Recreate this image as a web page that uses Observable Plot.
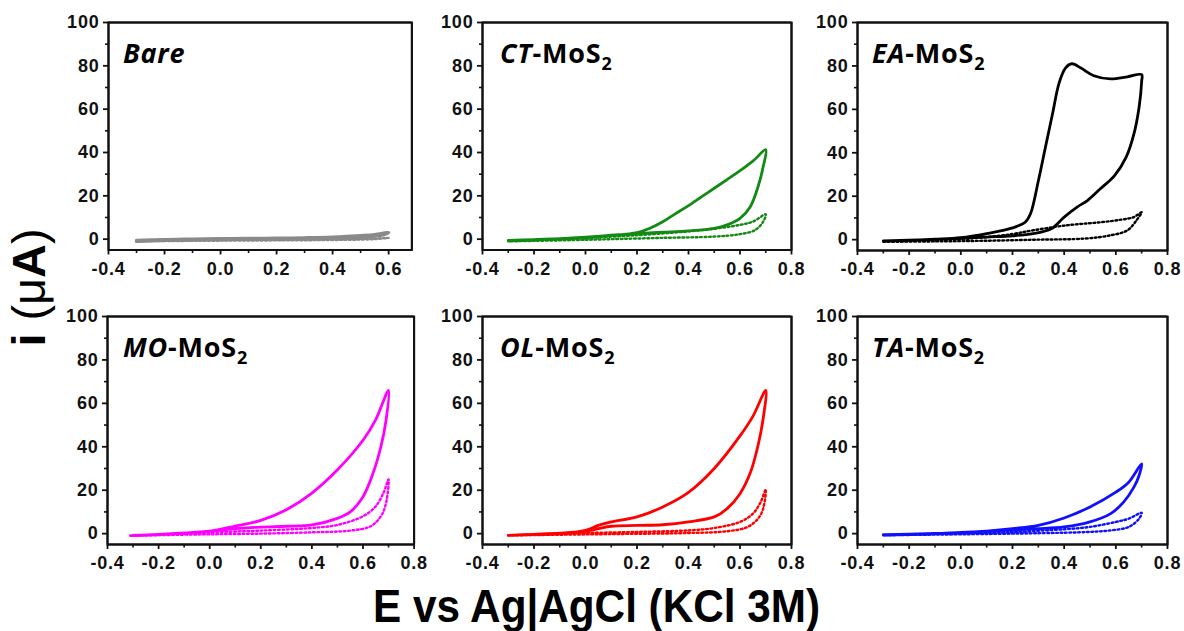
<!DOCTYPE html>
<html><head><meta charset="utf-8">
<script src="https://cdn.jsdelivr.net/npm/d3@7"></script>
<script src="https://cdn.jsdelivr.net/npm/@observablehq/plot@0.6"></script>
<style>
body{margin:0;background:#fff;}
#root{position:relative;width:1184px;height:631px;overflow:hidden;}
.panel{position:absolute;z-index:2;}
.panel g[aria-label$="tick label"] text, .panel g[aria-label$="tick label"]{font-family:'Liberation Sans',Arial,sans-serif !important;font-size:18px !important;font-weight:bold !important;letter-spacing:0.8px;fill:#111;}
#labels{position:absolute;left:0;top:0;pointer-events:none;z-index:1;}
</style>
</head><body>
<div id="root"></div>
<script>
// ---------- data: cyclic voltammograms (E in V vs Ag|AgCl, i in µA) ----------
const yTicks = [0, 20, 40, 60, 80, 100];
const yMinor = [10, 30, 50, 70, 90];
const yFrame = [-5, 100];
const xTicksShort = [-0.4, -0.2, 0.0, 0.2, 0.4, 0.6];
const xTicksLong = [-0.4, -0.2, 0.0, 0.2, 0.4, 0.6, 0.8];
const xMinorShort = [-0.3, -0.1, 0.1, 0.3, 0.5];
const xMinorLong = [-0.3, -0.1, 0.1, 0.3, 0.5, 0.7];

const bareSolid = [[-0.3,-0.6],[-0.2,-0.2],[-0.1,0],[0,0.2],[0.1,0.3],[0.2,0.4],[0.3,0.6],[0.4,0.9],[0.45,1.2],[0.5,1.6],[0.55,2.1],[0.6,3.0],
  [0.58,2.0],[0.55,1.4],[0.5,0.8],[0.4,0.4],[0.3,0.2],[0.2,0.1],[0,0],[-0.1,-0.2],[-0.2,-0.5],[-0.3,-1.0]];
const bareDotted = [[-0.3,-1.0],[0,-0.5],[0.3,-0.2],[0.45,0],[0.55,0.3],[0.6,0.6],[0.55,0],[0.45,-0.3],[0.3,-0.5],[0,-0.7],[-0.3,-1.0]];

const ctSolid = [[-0.3,-0.6],[-0.2,-0.2],[-0.1,0.2],[0,0.7],[0.1,1.6],[0.2,3.0],[0.25,5.0],[0.3,8.0],[0.35,11.8],[0.4,15.5],[0.45,19.5],[0.5,23.5],[0.55,27.5],[0.6,31.6],[0.65,36.0],[0.7,41.3],
  [0.69,33.4],[0.67,24.2],[0.64,15],[0.6,9.6],[0.55,6.6],[0.5,5],[0.4,3.8],[0.3,3.2],[0.2,2.6],[0.1,1.8],[0,0.9],[-0.1,0.2],[-0.2,-0.3],[-0.3,-0.6]];
const ctDotted = [[-0.3,-1.0],[-0.1,0],[0,0.6],[0.2,1.8],[0.4,3.6],[0.5,4.8],[0.6,6.6],[0.65,8.1],[0.7,11.5],
  [0.69,8.1],[0.66,4.3],[0.6,2.3],[0.5,1.2],[0.3,0.6],[0.1,0],[0,-0.3],[-0.2,-0.8],[-0.3,-1.0]];

const eaSolid = [[-0.3,-0.6],[-0.2,-0.3],[-0.1,0.2],[0,0.9],[0.1,2.8],[0.2,5.4],[0.25,8.1],[0.27,12],[0.3,27],[0.33,44],[0.355,58],[0.38,72],[0.405,79],[0.43,81],[0.465,79],[0.515,75.5],[0.58,74],[0.645,75],[0.7,76],
  [0.7,73],[0.69,61],[0.67,48.7],[0.64,38],[0.595,29.5],[0.54,23.4],[0.49,18],[0.45,15],[0.4,10.4],[0.35,5],[0.28,2.8],[0.2,1.8],[0.1,1.2],[0,0.6],[-0.13,0],[-0.3,-0.6]];
const eaDotted = [[-0.3,-1.0],[-0.1,-0.3],[0,0.3],[0.1,1.2],[0.2,2.6],[0.28,4.3],[0.41,6.6],[0.54,8],[0.62,9.2],[0.67,10.4],[0.7,12.7],
  [0.68,8.9],[0.645,4.3],[0.58,2],[0.48,0.5],[0.3,0],[0.1,-0.5],[-0.1,-0.8],[-0.3,-1.0]];

const moSolid = [[-0.31,-0.9],[-0.2,-0.3],[-0.1,0.3],[0,1.1],[0.1,3.5],[0.2,6.1],[0.3,11],[0.4,18.7],[0.5,29.4],[0.6,43],[0.65,52.5],[0.7,66],
  [0.69,52],[0.67,40],[0.64,28],[0.6,17],[0.55,10],[0.5,7],[0.4,4],[0.3,3.4],[0.2,3],[0.1,2.3],[0,1.1],[-0.1,0.3],[-0.2,-0.4],[-0.31,-0.9]];
const moDotted = [[-0.3,-1.0],[-0.1,0],[0,0.6],[0.2,1.4],[0.4,2.6],[0.5,4],[0.6,8],[0.65,12.6],[0.68,18.7],[0.7,25],
  [0.69,14],[0.67,8],[0.63,3.4],[0.55,1.4],[0.4,0.6],[0.2,0],[0,-0.3],[-0.2,-0.7],[-0.3,-1.0]];

const olSolid = [[-0.3,-0.8],[-0.2,-0.4],[-0.1,0],[0,1.5],[0.05,3.8],[0.1,5.4],[0.2,7.7],[0.3,12.3],[0.4,19],[0.5,30],[0.6,45],[0.65,54],[0.7,66],
  [0.69,53],[0.67,40.6],[0.64,28],[0.6,18.4],[0.55,11.5],[0.5,7.7],[0.4,5.4],[0.3,4.1],[0.2,3.8],[0.1,3.4],[0.05,2.3],[0,1.1],[-0.1,0.2],[-0.2,-0.3],[-0.3,-0.8]];
const olDotted = [[-0.3,-0.8],[-0.1,0],[0,0.3],[0.2,0.8],[0.4,1.5],[0.5,2.6],[0.6,5.4],[0.65,9.2],[0.68,14.5],[0.7,20.4],
  [0.69,11.5],[0.67,6.9],[0.63,3.1],[0.55,1.1],[0.4,0.3],[0.1,-0.2],[-0.1,-0.5],[-0.3,-0.8]];

const taSolid = [[-0.3,-0.5],[-0.2,-0.2],[-0.1,0.1],[0,0.5],[0.1,1.2],[0.2,2.3],[0.3,3.8],[0.4,7.2],[0.5,12.3],[0.6,19.1],[0.65,23.7],[0.7,32.2],
  [0.69,26.8],[0.67,21.4],[0.63,14.5],[0.58,9.2],[0.5,5.4],[0.4,3.1],[0.3,2.3],[0.2,1.8],[0.1,1.1],[0,0.6],[-0.1,0],[-0.2,-0.3],[-0.3,-0.5]];
const taDotted = [[-0.3,-0.8],[-0.1,-0.2],[0,0.2],[0.2,0.8],[0.4,2],[0.5,3.1],[0.6,5.4],[0.65,6.9],[0.7,9.6],
  [0.69,6.9],[0.65,3.1],[0.58,1.5],[0.5,0.8],[0.3,0.2],[0,-0.3],[-0.2,-0.6],[-0.3,-0.8]];

const titles = [
  {it: "Bare", rest: "", sub: ""},
  {it: "CT", rest: "-MoS", sub: "2"},
  {it: "EA", rest: "-MoS", sub: "2"},
  {it: "MO", rest: "-MoS", sub: "2"},
  {it: "OL", rest: "-MoS", sub: "2"},
  {it: "TA", rest: "-MoS", sub: "2"}
];
const colors = ["#8a8a8a", "#138a13", "#000000", "#ff00ff", "#ff0000", "#1010ff"];
const xLabel = "E vs Ag|AgCl (KCl 3M)";

// ---------- layout ----------
const ML = 60, MR = 22, MT = 12, MB = 40;
const panels = [
  {left:108.3, top:22,    w:303.4, h:227.5, xmax:0.683, solid:bareSolid, dotted:bareDotted, xt:xTicksShort, xm:xMinorShort, tdx:15, sw:3.4},
  {left:481.7, top:22,    w:309,   h:227.5, xmax:0.8,   solid:ctSolid,   dotted:ctDotted,   xt:xTicksLong,  xm:xMinorLong,  tdx:18, sw:2.8},
  {left:856.7, top:22,    w:310,   h:228,   xmax:0.8,   solid:eaSolid,   dotted:eaDotted,   xt:xTicksLong,  xm:xMinorLong,  tdx:15, sw:2.8},
  {left:106.7, top:315.5, w:306.6, h:228,   xmax:0.8,   solid:moSolid,   dotted:moDotted,   xt:xTicksLong,  xm:xMinorLong,  tdx:16, sw:2.8},
  {left:481.7, top:315.5, w:309,   h:228,   xmax:0.8,   solid:olSolid,   dotted:olDotted,   xt:xTicksLong,  xm:xMinorLong,  tdx:18, sw:2.8},
  {left:856.7, top:315.5, w:310,   h:228,   xmax:0.8,   solid:taSolid,   dotted:taDotted,   xt:xTicksLong,  xm:xMinorLong,  tdx:15, sw:2.8}
];

const root = document.getElementById("root");
const fmt = d => d.toFixed(1);

// ---------- shared axis labels (behind the panels) ----------
const svg = d3.select(root).append("svg").attr("id", "labels").attr("width", 1184).attr("height", 631);
const yl = svg.append("text")
  .attr("transform", "translate(45,287.5) rotate(-90)")
  .attr("text-anchor", "middle")
  .attr("textLength", 118).attr("lengthAdjust", "spacingAndGlyphs")
  .style("font-family", "'Liberation Sans', Arial, sans-serif").style("font-size", "46px").style("fill", "#000");
yl.append("tspan").style("font-weight", "bold").text("i ");
yl.append("tspan").style("font-weight", "normal").text("(μ");
yl.append("tspan").style("font-weight", "bold").text("A");
yl.append("tspan").style("font-weight", "normal").text(")");
svg.append("text")
  .attr("x", 373).attr("y", 621.7)
  .attr("textLength", 447).attr("lengthAdjust", "spacingAndGlyphs")
  .style("font-family", "'Liberation Sans', Arial, sans-serif").style("font-size", "46px").style("font-weight", "bold").style("fill", "#000")
  .text(xLabel);

// ---------- panels ----------
panels.forEach((p, k) => {
  const color = colors[k];
  const xFrame = [-0.4, p.xmax];
  const chart = Plot.plot({
    width: ML + p.w + MR,
    height: MT + p.h + MB,
    marginLeft: ML, marginRight: MR, marginTop: MT, marginBottom: MB,
    style: {fontFamily: "'Liberation Sans', Arial, sans-serif", fontSize: "18px", fontWeight: "bold", color: "#111", background: "transparent", overflow: "visible"},
    x: {domain: xFrame},
    y: {domain: yFrame},
    marks: [
      Plot.line(p.dotted, {x: d => d[0], y: d => d[1], stroke: color, strokeWidth: 2.4, strokeDasharray: "1.8,2.6", curve: "catmull-rom"}),
      Plot.line(p.solid, {x: d => d[0], y: d => d[1], stroke: color, strokeWidth: p.sw, curve: "catmull-rom"}),
      Plot.axisY(yMinor, {tickSize: 3, strokeWidth: 1.6, tickFormat: () => "", label: null}),
      Plot.axisY(yTicks, {tickSize: 5, tickPadding: 4, strokeWidth: 1.8, tickFormat: d => String(d), label: null}),
      Plot.axisX(p.xm, {tickSize: 3.5, strokeWidth: 1.6, tickFormat: () => "", label: null}),
      Plot.axisX(p.xt, {tickSize: 5, tickPadding: 7, strokeWidth: 1.8, tickFormat: fmt, label: null}),
      Plot.ruleX(xFrame, {stroke: "#111", strokeWidth: 2}),
      Plot.ruleY(yFrame, {stroke: "#111", strokeWidth: 2}),
      Plot.frame({stroke: "#111", strokeWidth: 2})
    ]
  });
  chart.classList.add("panel");
  chart.style.left = (p.left - ML) + "px";
  chart.style.top = (p.top - MT) + "px";
  // panel title as real SVG text
  const t = d3.select(chart).append("text")
    .attr("x", ML + p.tdx).attr("y", MT + 41).attr("text-anchor", "start")
    .style("font-family", "'Open Sans', sans-serif").style("font-size", "27px").style("font-weight", "bold").style("letter-spacing", "0.8px").style("fill", "#000");
  t.append("tspan").style("font-style", "italic").text(titles[k].it);
  if (titles[k].rest) t.append("tspan").text(titles[k].rest);
  if (titles[k].sub) t.append("tspan").attr("dy", 7).style("font-size", "18px").text(titles[k].sub);
  root.appendChild(chart);
});
</script>
</body></html>
